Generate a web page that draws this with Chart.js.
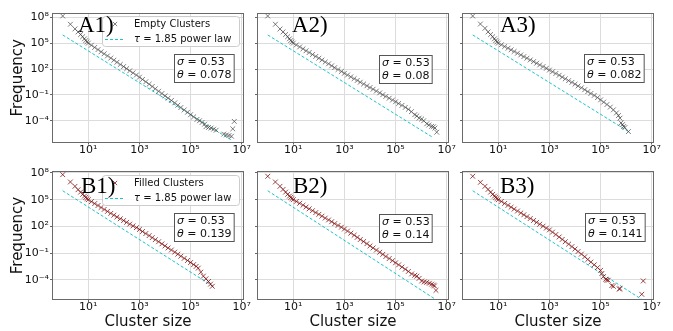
<!DOCTYPE html>
<html>
<head>
<meta charset="utf-8">
<script src="https://cdn.jsdelivr.net/npm/chart.js@4.4.1/dist/chart.umd.min.js"></script>
<style>
  html, body { margin: 0; padding: 0; background: #fff; }
  #wrap { position: relative; width: 673px; height: 331px; overflow: hidden; }
  #wrap canvas { position: absolute; left: 0; top: 0; }
</style>
</head>
<body>
<div id="wrap">
  <canvas id="a1" width="673" height="331"></canvas>
  <canvas id="a2" width="673" height="331"></canvas>
  <canvas id="a3" width="673" height="331"></canvas>
  <canvas id="b1" width="673" height="331"></canvas>
  <canvas id="b2" width="673" height="331"></canvas>
  <canvas id="b3" width="673" height="331"></canvas>
</div>
<script>
// cluster sizes as log10, shared by every panel up to s = 10^5
const logSize = [0, 0.3, 0.48, 0.6, 0.7, 0.78, 0.85, 0.9, 0.95, 1.0,
  1.12, 1.25, 1.38, 1.5, 1.62, 1.75, 1.88, 2.0, 2.12, 2.25, 2.38, 2.5, 2.62, 2.75, 2.88, 3.0,
  3.12, 3.25, 3.38, 3.5, 3.62, 3.75, 3.88, 4.0, 4.12, 4.25, 4.38, 4.5, 4.62, 4.75, 4.88, 5.0];

// log10 frequency for each panel at logSize
const freqA1 = [8.15, 7.19, 6.65, 6.3, 6.0, 5.75, 5.5, 5.3, 5.15, 5.0,
  4.76, 4.5, 4.25, 4.0, 3.77, 3.52, 3.27, 3.02, 2.78, 2.52, 2.28, 2.04, 1.79, 1.55, 1.3, 1.05,
  0.79, 0.52, 0.24, -0.03, -0.3, -0.58, -0.84, -1.12, -1.38, -1.65, -1.93, -2.2, -2.47, -2.75, -3.02, -3.3];
const freqA2 = [8.15, 7.19, 6.64, 6.3, 6.0, 5.75, 5.5, 5.3, 5.15, 5.0,
  4.79, 4.56, 4.34, 4.12, 3.91, 3.68, 3.46, 3.25, 3.04, 2.81, 2.6, 2.37, 2.16, 1.94, 1.71, 1.5,
  1.3, 1.09, 0.88, 0.67, 0.47, 0.26, 0.05, -0.15, -0.35, -0.56, -0.77, -0.98, -1.18, -1.39, -1.6, -1.8];
const freqA3 = [8.15, 7.22, 6.72, 6.3, 6.0, 5.75, 5.5, 5.3, 5.15, 5.0,
  4.81, 4.61, 4.41, 4.22, 4.03, 3.83, 3.63, 3.44, 3.25, 3.05, 2.86, 2.67, 2.47, 2.28, 2.08, 1.88,
  1.68, 1.48, 1.27, 1.06, 0.86, 0.65, 0.45, 0.24, 0.03, -0.18, -0.4, -0.62, -0.84, -1.07, -1.32, -1.58];
const freqB1 = [7.81, 6.99, 6.5, 6.12, 5.85, 5.6, 5.4, 5.25, 5.12, 5.0,
  4.78, 4.56, 4.34, 4.12, 3.9, 3.68, 3.46, 3.25, 3.05, 2.85, 2.65, 2.45, 2.25, 2.05, 1.85, 1.65,
  1.42, 1.19, 0.96, 0.73, 0.5, 0.27, 0.03, -0.2, -0.43, -0.66, -0.9, -1.13, -1.36, -1.6, -1.84, -2.07];
const freqB2 = [7.63, 6.99, 6.5, 6.15, 5.85, 5.6, 5.4, 5.25, 5.12, 5.0,
  4.8, 4.59, 4.38, 4.17, 3.97, 3.76, 3.55, 3.35, 3.14, 2.93, 2.72, 2.52, 2.31, 2.1, 1.9, 1.7,
  1.47, 1.23, 1.0, 0.76, 0.52, 0.29, 0.05, -0.2, -0.43, -0.67, -0.91, -1.15, -1.39, -1.62, -1.86, -2.1];
const freqB3 = [7.63, 6.95, 6.5, 6.15, 5.85, 5.6, 5.4, 5.25, 5.12, 5.0,
  4.8, 4.58, 4.36, 4.15, 3.94, 3.72, 3.5, 3.3, 3.09, 2.88, 2.66, 2.45, 2.24, 2.02, 1.8, 1.6,
  1.35, 1.08, 0.8, 0.53, 0.27, 0.0, -0.28, -0.55, -0.83, -1.12, -1.42, -1.72, -2.02, -2.33, -2.64, -2.95];

// large-cluster tails (log10 size, log10 frequency)
const tailSizeA1 = [5.12, 5.25, 5.35, 5.45, 5.55, 5.6, 5.7, 5.8, 5.9, 6.0, 6.3, 6.4, 6.5, 6.6, 6.65, 6.71];
const tailFreqA1 = [-3.55, -3.85, -4.0, -4.2, -4.4, -4.7, -4.78, -4.85, -4.98, -5.1, -5.55, -5.65, -5.72, -5.8, -4.94, -4.08];
const tailSizeA2 = [5.12, 5.25, 5.38, 5.5, 5.62, 5.75, 5.83, 5.92, 6.02, 6.1, 6.22, 6.3, 6.41, 6.48, 6.54, 6.61];
const tailFreqA2 = [-2.0, -2.22, -2.45, -2.68, -2.95, -3.3, -3.45, -3.7, -3.8, -4.0, -4.35, -4.5, -4.65, -4.7, -4.85, -5.33];
const tailSizeA3 = [5.12, 5.25, 5.38, 5.5, 5.62, 5.7, 5.76, 5.8, 5.86, 5.9, 5.95, 6.09];
const tailFreqA3 = [-1.84, -2.12, -2.42, -2.74, -3.1, -3.4, -3.7, -4.25, -4.45, -4.68, -4.8, -5.26];
const tailSizeB1 = [5.12, 5.22, 5.3, 5.4, 5.5, 5.6, 5.7, 5.78, 5.85];
const tailFreqB1 = [-2.3, -2.5, -2.7, -3.15, -3.6, -3.9, -4.2, -4.5, -4.74];
const tailSizeB2 = [5.12, 5.25, 5.38, 5.5, 5.63, 5.75, 5.83, 5.92, 6.02, 6.12, 6.22, 6.32, 6.41, 6.48, 6.52, 6.58];
const tailFreqB2 = [-2.33, -2.58, -2.82, -3.07, -3.35, -3.5, -3.6, -3.85, -4.15, -4.25, -4.3, -4.4, -4.5, -4.6, -4.7, -5.2];
const tailSizeB3 = [5.05, 5.11, 5.2, 5.24, 5.3, 5.44, 5.5, 5.73, 5.76, 6.61, 6.67];
const tailFreqB3 = [-3.3, -3.65, -3.95, -4.03, -4.06, -4.66, -4.74, -5.04, -5.0, -5.64, -4.14];

// tau = 1.85 reference line end points (log10 size, log10 frequency)
const lawSizeA1 = [0, 6.6],  lawFreqA1 = [5.95, -6.25];
const lawSizeA2 = [0, 6.41], lawFreqA2 = [5.95, -5.85];
const lawSizeA3 = [0, 6.09], lawFreqA3 = [5.95, -5.26];
const lawSizeB1 = [0, 5.89], lawFreqB1 = [6.0, -4.77];
const lawSizeB2 = [0, 6.54], lawFreqB2 = [6.0, -6.17];
const lawSizeB3 = [0, 6.6],  lawFreqB3 = [6.0, -6.2];

const sigmaValues = ['0.53', '0.53', '0.53', '0.53', '0.53', '0.53'];
const thetaValues = ['0.078', '0.08', '0.082', '0.139', '0.14', '0.141'];
const panelTags = ['A1)', 'A2)', 'A3)', 'B1)', 'B2)', 'B3)'];

const xTickValues = [1e1, 1e3, 1e5, 1e7];
const xTickLabels = ['10¹', '10³', '10⁵', '10⁷'];
const yTickValues = [1e-4, 1e-1, 1e2, 1e5, 1e8];
const yTickLabels = ['10⁻⁴', '10⁻¹', '10²', '10⁵', '10⁸'];

const xRange = [-0.38, 7.05];
const yRangeTop = [-6.41, 8.38];
const yRangeBottom = [-6.17, 8.11];

// layout in page pixels
const colLeft = [53, 258, 463];
const plotWidth = 190;
const rowTop = [14, 172];
const rowBottom = [141.5, 299];
const gridColor = '#dcdcdc';
const lawColor = 'rgba(0, 190, 196, 0.9)';
const FONT = '"DejaVu Sans", sans-serif';

function toPoints(sizes, freqs) {
  return freqs.map((f, i) => ({ x: Math.pow(10, sizes[i]), y: Math.pow(10, f) }));
}

function drawCross(ctx, x, y, r, color) {
  const d = r * Math.SQRT1_2;
  ctx.beginPath();
  ctx.moveTo(x - d, y - d); ctx.lineTo(x + d, y + d);
  ctx.moveTo(x - d, y + d); ctx.lineTo(x + d, y - d);
  ctx.strokeStyle = color;
  ctx.lineWidth = 1;
  ctx.stroke();
}

function drawSymbolText(ctx, sym, rest, x, y) {
  ctx.font = 'italic ' + ctx._size + 'px ' + FONT;
  ctx.fillText(sym, x, y);
  const w = ctx.measureText(sym).width;
  ctx.font = ctx._size + 'px ' + FONT;
  ctx.fillText(rest, x + w, y);
  return w + ctx.measureText(rest).width;
}

function decorPlugin(p) {
  return {
    id: 'decor',
    afterDatasetsDraw(chart) {
      const { ctx, chartArea: a } = chart;
      ctx.save();

      // axes frame
      ctx.strokeStyle = '#6a6a6a';
      ctx.lineWidth = 1;
      ctx.strokeRect(Math.round(a.left) - 0.5, Math.round(a.top) - 0.5,
        Math.round(a.width) + 1, Math.round(a.height) + 1);

      // legend (first column only)
      if (p.legend) {
        const lx = a.left + 49, ly = a.top + p.legendDy, lw = 137, lh = 30;
        ctx.beginPath();
        ctx.roundRect(lx + 0.5, ly + 0.5, lw, lh, 3);
        ctx.fillStyle = 'rgba(255,255,255,0.85)';
        ctx.fill();
        ctx.strokeStyle = '#cccccc';
        ctx.stroke();
        drawCross(ctx, lx + 13, ly + 8, 3, p.color);
        ctx.fillStyle = '#111';
        ctx.textBaseline = 'middle';
        ctx.font = '10px ' + FONT;
        ctx.fillText(p.legend, lx + 32, ly + 8);
        ctx.beginPath();
        ctx.setLineDash([3, 2]);
        ctx.moveTo(lx + 3, ly + 23.5);
        ctx.lineTo(lx + 23, ly + 23.5);
        ctx.strokeStyle = lawColor;
        ctx.lineWidth = 1;
        ctx.stroke();
        ctx.setLineDash([]);
        ctx._size = 10;
        drawSymbolText(ctx, 'τ', ' = 1.85 power law', lx + 32, ly + 23.5);
      }

      // panel tag
      ctx.font = '23px "Liberation Serif", serif';
      ctx.fillStyle = '#000';
      ctx.textBaseline = 'alphabetic';
      ctx.fillText(p.tag, a.left + p.tagDx, a.top + p.tagDy);

      // sigma / theta box
      ctx._size = 11;
      const l1 = ' = ' + p.sigma, l2 = ' = ' + p.theta;
      ctx.font = 'italic 11px ' + FONT;
      const sw = Math.max(ctx.measureText('σ').width, ctx.measureText('θ').width);
      ctx.font = '11px ' + FONT;
      const tw = sw + Math.max(ctx.measureText(l1).width, ctx.measureText(l2).width);
      const bx = Math.round(a.left + p.boxDx) + 0.5, by = Math.round(a.top + p.boxDy) + 0.5;
      ctx.fillStyle = '#fff';
      ctx.fillRect(bx, by, tw + 5, 28);
      ctx.strokeStyle = '#555';
      ctx.lineWidth = 1;
      ctx.strokeRect(bx, by, tw + 5, 28);
      ctx.fillStyle = '#111';
      ctx.textBaseline = 'middle';
      drawSymbolText(ctx, 'σ', l1, bx + 2.5, by + 8);
      drawSymbolText(ctx, 'θ', l2, bx + 2.5, by + 21);

      ctx.restore();
    }
  };
}

function makePanel(p) {
  const left = colLeft[p.col];
  const right = left + plotWidth;
  const top = rowTop[p.row];
  const bottom = rowBottom[p.row];
  const yRange = p.row === 0 ? yRangeTop : yRangeBottom;
  const yW = p.col === 0 ? 53 : 4;
  const xH = p.row === 1 ? 32 : 18;

  const points = toPoints(logSize, p.freq).concat(toPoints(p.tailSize, p.tailFreq));
  const law = toPoints(p.lawSize, p.lawFreq);

  new Chart(document.getElementById(p.id), {
    type: 'scatter',
    data: {
      datasets: [
        {
          data: points,
          showLine: false,
          pointStyle: 'crossRot',
          pointRadius: 3.4,
          pointHoverRadius: 3.4,
          borderColor: p.color,
          backgroundColor: p.color,
          borderWidth: 1
        },
        {
          data: law,
          showLine: true,
          borderColor: lawColor,
          borderWidth: 1,
          borderDash: [3, 2],
          pointRadius: 0,
          fill: false
        }
      ]
    },
    options: {
      responsive: false,
      animation: false,
      devicePixelRatio: 1,
      events: [],
      layout: {
        padding: { left: left - yW, right: 673 - right, top: top, bottom: 331 - bottom - xH }
      },
      plugins: { legend: { display: false }, tooltip: { enabled: false } },
      scales: {
        x: {
          type: 'logarithmic',
          bounds: 'data',
          min: Math.pow(10, xRange[0]),
          max: Math.pow(10, xRange[1]),
          afterBuildTicks: s => { s.ticks = xTickValues.map(v => ({ value: v })); },
          afterFit: s => { s.height = xH; },
          ticks: {
            autoSkip: false, maxRotation: 0, minRotation: 0, padding: -1, color: '#111',
            font: { family: 'DejaVu Sans', size: 11 },
            callback: (v, i) => xTickLabels[i]
          },
          grid: { color: gridColor, lineWidth: 1, tickLength: 3, tickColor: '#666' },
          border: { display: false },
          title: {
            display: p.row === 1, text: 'Cluster size', color: '#111',
            font: { family: 'DejaVu Sans', size: 15 }, padding: { top: 0, bottom: 0 }
          }
        },
        y: {
          type: 'logarithmic',
          bounds: 'data',
          min: Math.pow(10, yRange[0]),
          max: Math.pow(10, yRange[1]),
          afterBuildTicks: s => { s.ticks = yTickValues.map(v => ({ value: v })); },
          afterFit: s => { s.width = yW; },
          ticks: {
            display: p.col === 0, autoSkip: false, padding: 1, color: '#111',
            font: { family: 'DejaVu Sans', size: 11 },
            callback: (v, i) => yTickLabels[i]
          },
          grid: { color: gridColor, lineWidth: 1, tickLength: 3, tickColor: '#666' },
          border: { display: false },
          title: {
            display: p.col === 0, text: 'Frequency', color: '#111',
            font: { family: 'DejaVu Sans', size: 15 }, padding: { top: 9, bottom: 0 }
          }
        }
      }
    },
    plugins: [decorPlugin(p)]
  });
}

const grey = 'rgba(70, 70, 70, 0.7)';
const red = 'rgba(125, 10, 10, 0.75)';

const panels = [
  { id: 'a1', row: 0, col: 0, freq: freqA1, tailSize: tailSizeA1, tailFreq: tailFreqA1, lawSize: lawSizeA1, lawFreq: lawFreqA1,
    color: grey, legend: 'Empty Clusters', legendDy: 2, tagDx: 25, tagDy: 18, boxDx: 121, boxDy: 39.5 },
  { id: 'a2', row: 0, col: 1, freq: freqA2, tailSize: tailSizeA2, tailFreq: tailFreqA2, lawSize: lawSizeA2, lawFreq: lawFreqA2,
    color: grey, tagDx: 34, tagDy: 18, boxDx: 121, boxDy: 41 },
  { id: 'a3', row: 0, col: 2, freq: freqA3, tailSize: tailSizeA3, tailFreq: tailFreqA3, lawSize: lawSizeA3, lawFreq: lawFreqA3,
    color: grey, tagDx: 37, tagDy: 18, boxDx: 121, boxDy: 39.5 },
  { id: 'b1', row: 1, col: 0, freq: freqB1, tailSize: tailSizeB1, tailFreq: tailFreqB1, lawSize: lawSizeB1, lawFreq: lawFreqB1,
    color: red, legend: 'Filled Clusters', legendDy: 3, tagDx: 28, tagDy: 21, boxDx: 121, boxDy: 40.5 },
  { id: 'b2', row: 1, col: 1, freq: freqB2, tailSize: tailSizeB2, tailFreq: tailFreqB2, lawSize: lawSizeB2, lawFreq: lawFreqB2,
    color: red, tagDx: 35, tagDy: 21, boxDx: 120.5, boxDy: 42 },
  { id: 'b3', row: 1, col: 2, freq: freqB3, tailSize: tailSizeB3, tailFreq: tailFreqB3, lawSize: lawSizeB3, lawFreq: lawFreqB3,
    color: red, tagDx: 37, tagDy: 21, boxDx: 122, boxDy: 41 }
];

panels.forEach((p, i) => {
  p.tag = panelTags[i];
  p.sigma = sigmaValues[i];
  p.theta = thetaValues[i];
  makePanel(p);
});
</script>
</body>
</html>
